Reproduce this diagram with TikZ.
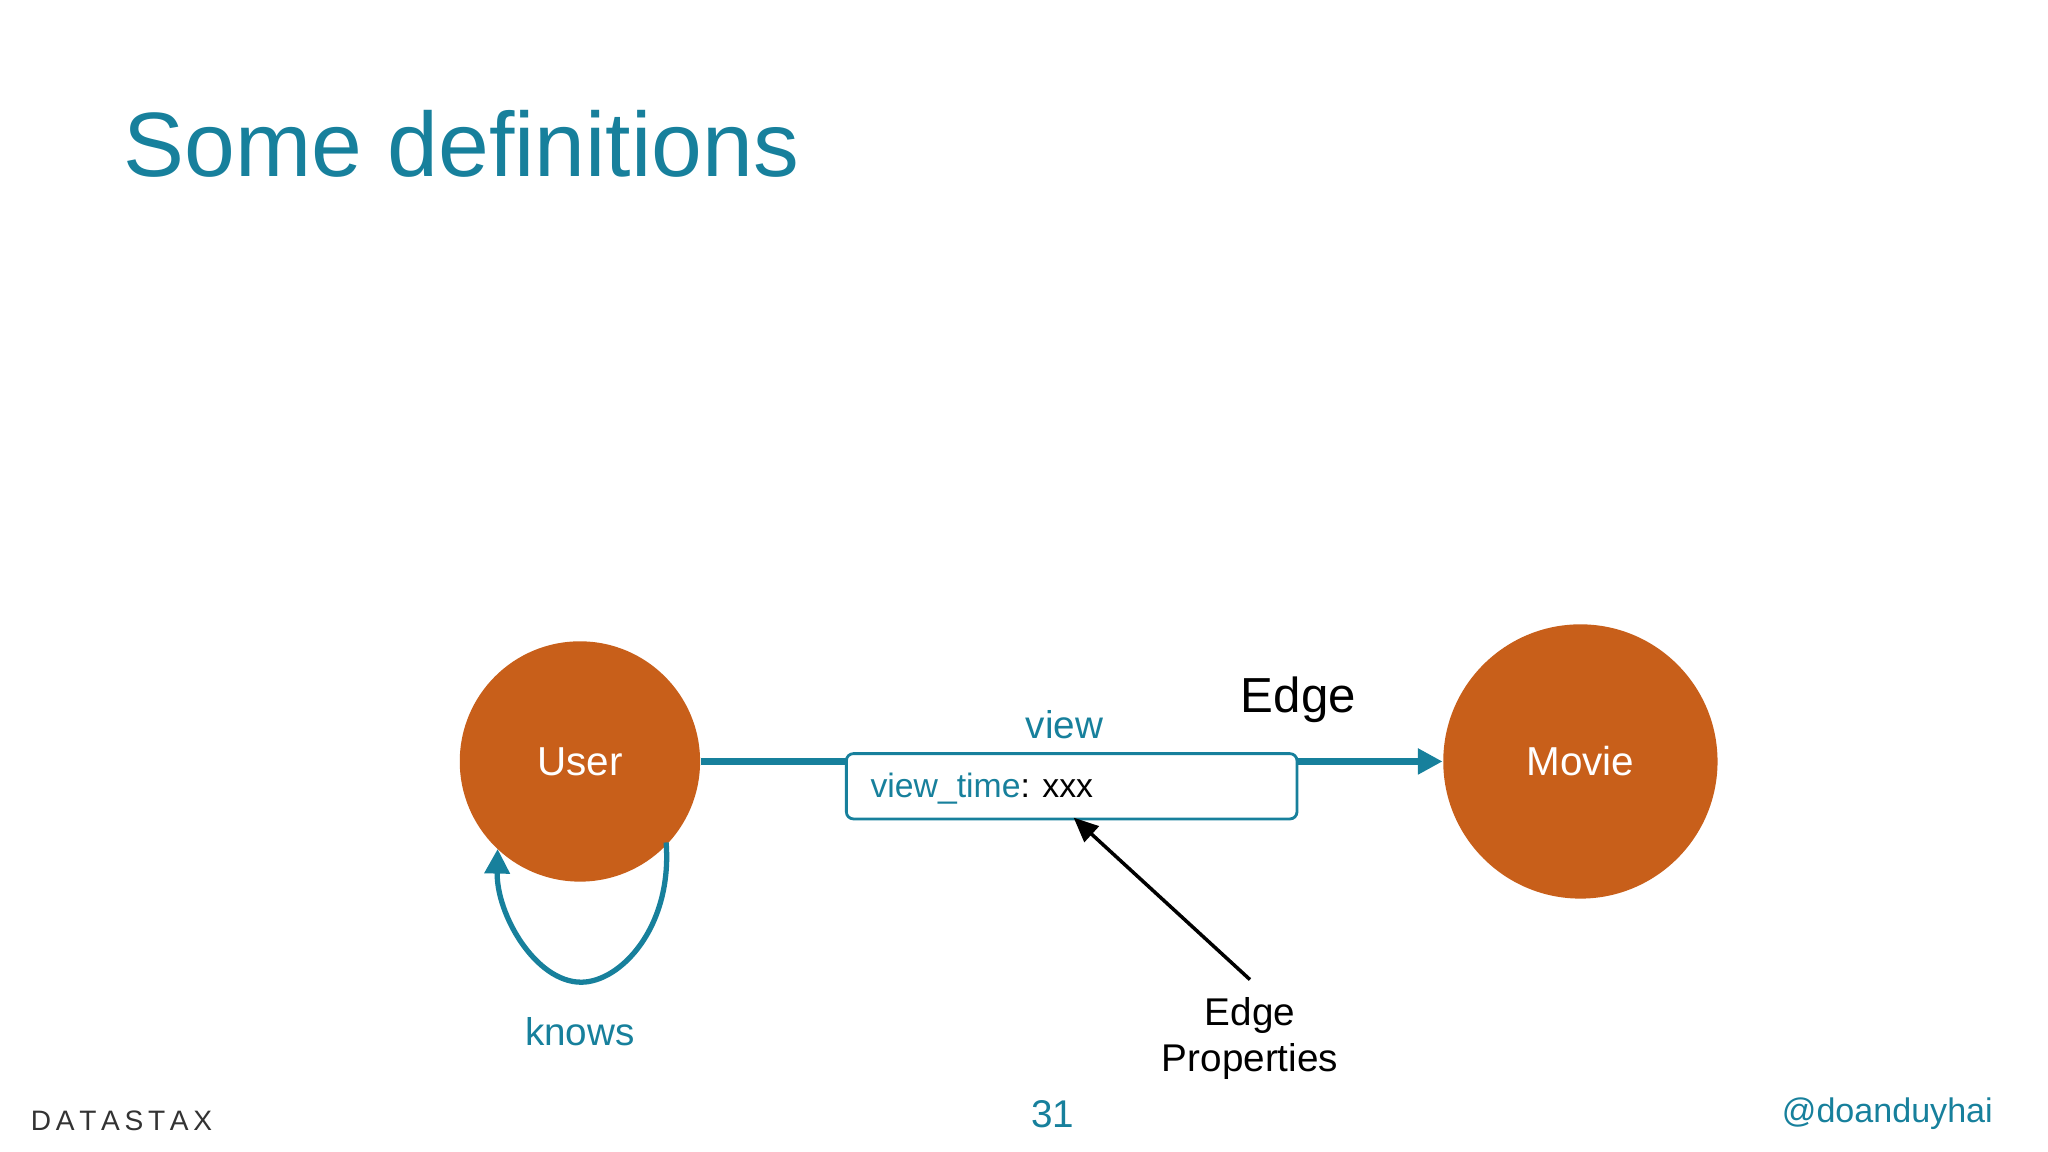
\documentclass[tikz,border=0pt]{standalone}
\usepackage{fontspec}
\setmainfont{Liberation Sans}
\usetikzlibrary{arrows.meta}
\definecolor{teal1}{HTML}{17809C}
\definecolor{orng}{HTML}{C85F1A}
\begin{document}
\begin{tikzpicture}[x=0.013061cm,y=-0.013061cm,
  vert/.style={circle,fill=orng,text=white,font=\fontsize{11.5}{13}\selectfont,inner sep=0pt},
  lbl/.style={font=\fontsize{11}{13}\selectfont,inner sep=0pt}]
\useasboundingbox (0,0) rectangle (1568,882);
\node[anchor=base west,text=teal1,font=\fontsize{26}{30}\selectfont,inner sep=0pt] (title) at (94,135) {Some definitions};
\node[vert,minimum size=184*0.013061cm] (user) at (444,583) {User};
\node[vert,minimum size=210*0.013061cm] (movie) at (1210,583) {Movie};
\draw[teal1,line width=1.9pt,-{Triangle[length=7pt,width=7pt]}] (user.east) -- (movie.west);
\node[draw=teal1,fill=white,rounded corners=2pt,line width=0.8pt,minimum width=345*0.013061cm,minimum height=50*0.013061cm] (box) at (820.5,602) {};
\node[anchor=west,font=\fontsize{9.6}{12}\selectfont,inner sep=0pt] (vt) at (666,604) {\textcolor{teal1}{view\_time}: xxx};
\node[lbl,text=teal1] (view) at (815,555) {view};
\node[font=\fontsize{14}{16}\selectfont,inner sep=0pt] (edge) at (994,536) {Edge};
\node[lbl,align=center] (ep) at (957,795) {Edge\\Properties};
\coordinate (ept) at (957,750);
\draw[line width=1pt,-{Triangle[length=7pt,width=6pt]}] (ept) -- (822,626);
\coordinate (ls) at (510,645);
\coordinate (le) at (381,650);
\draw[teal1,line width=1.5pt,-{Triangle[length=7pt,width=7pt]}] (ls) .. controls (515,710) and (475,752) .. (445,752) .. controls (410,752) and (380,700) .. (le);
\node[lbl,text=teal1] (knows) at (444,790) {knows};
\node[font=\fontsize{8}{10}\selectfont,text=black!80,inner sep=0pt] (logo) at (93,858) {D\,A\,T\,A\,S\,T\,A\,X};
\node[lbl,text=teal1] (num) at (806,853) {31};
\node[font=\fontsize{9.7}{12}\selectfont,text=teal1,inner sep=0pt] (tw) at (1445,853) {@doanduyhai};
\end{tikzpicture}
\end{document}
